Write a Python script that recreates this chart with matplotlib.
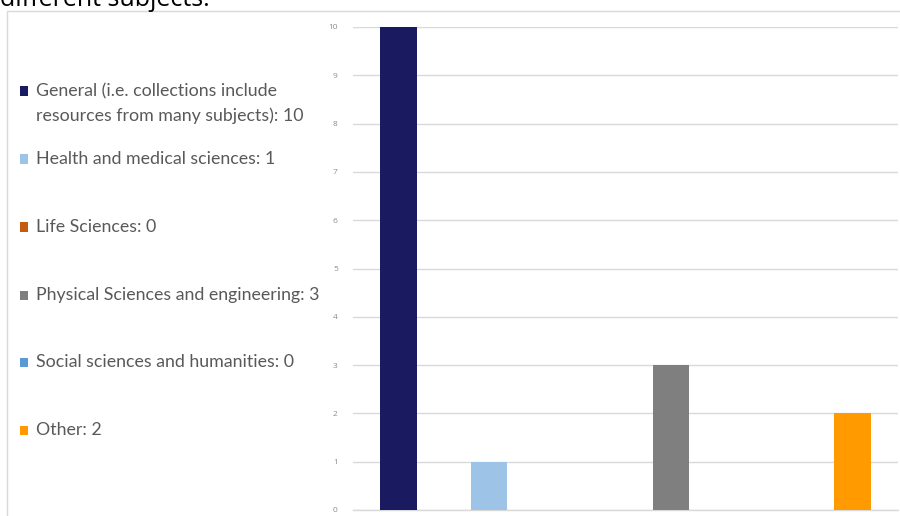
import matplotlib
matplotlib.use("Agg")
import matplotlib.pyplot as plt
from matplotlib.patches import Rectangle

categories = [
    "General (i.e. collections include\nresources from many subjects)",
    "Health and medical sciences",
    "Life Sciences",
    "Physical Sciences and engineering",
    "Social sciences and humanities",
    "Other",
]
values = [10, 1, 0, 3, 0, 2]
colors = ["#1a1a60", "#9dc3e6", "#c55a11", "#7f7f7f", "#5b9bd5", "#ff9a00"]
y_ticks = list(range(0, 11))

W, H = 900, 516
fig = plt.figure(figsize=(W / 100, H / 100), dpi=100)
fig.patch.set_facecolor("white")

# caption line running above the chart frame
fig.text(0.0, 1 - 6 / H, "different subjects.", fontsize=18, family="Open Sans",
         color="#000000", ha="left", va="baseline")

# chart frame
frame = Rectangle((7 / W, -0.01), 1.0, 1 - 11 / H + 0.01, transform=fig.transFigure,
                  fill=False, edgecolor="#d9d9d9", linewidth=1.0)
fig.add_artist(frame)

ax = fig.add_axes([353 / W, 1 - 510 / H, (898 - 353) / W, (510 - 27) / H])
x = list(range(len(values)))
ax.bar(x, values, width=0.4, color=colors, zorder=3)
ax.set_xlim(-0.5, len(values) - 0.5)
ax.set_ylim(0, 10)
ax.set_yticks(y_ticks)
ax.set_yticklabels([str(t) for t in y_ticks], fontsize=6, color="#8c8c8c", family="Open Sans")
ax.tick_params(axis="y", length=0, pad=11)
ax.set_xticks([])
ax.grid(axis="y", color="#d9d9d9", linewidth=1.0, zorder=0)
for s in ax.spines.values():
    s.set_visible(False)
ax.axhline(0, color="#d9d9d9", linewidth=1.0, zorder=2, clip_on=False)

# legend on the left
legend_y = [91, 159, 227, 295, 362, 430]
line_gap = 25
for cat, val, col, yp in zip(categories, values, colors, legend_y):
    yf = 1 - yp / H
    fig.add_artist(Rectangle((20 / W, yf - 4.5 / H), 8 / W, 9 / H, transform=fig.transFigure,
                             facecolor=col, edgecolor="none"))
    lines = f"{cat}: {val}".split("\n")
    for i, ln in enumerate(lines):
        fig.text(36 / W, 1 - (yp + i * line_gap) / H, ln, fontsize=12.8, family="Lato",
                 color="#595959", ha="left", va="center")

fig.savefig("out.png", dpi=100)
